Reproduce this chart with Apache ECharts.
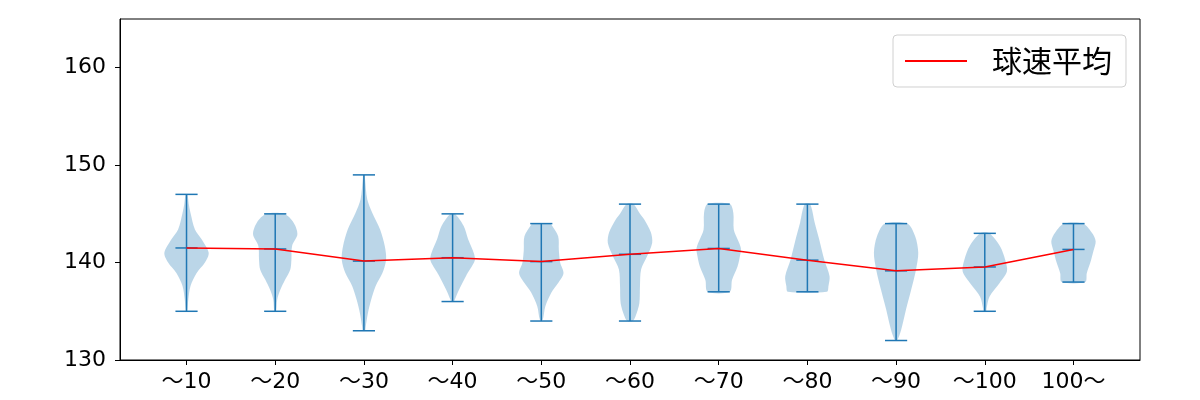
<!DOCTYPE html>
<html>
<head>
<meta charset="utf-8">
<script src="https://cdn.jsdelivr.net/npm/echarts@6/dist/echarts.min.js"></script>
<style>
  html, body { margin: 0; padding: 0; background: #fff; }
  #chart { width: 1200px; height: 400px; }
</style>
</head>
<body>
<div id="chart"></div>
<script>
// ---- data ----
const categories = ['～10', '～20', '～30', '～40', '～50', '～60', '～70', '～80', '～90', '～100', '100～'];
const seriesName = '球速平均';
const means = [141.5, 141.4, 140.15, 140.5, 140.1, 140.85, 141.45, 140.25, 139.15, 139.55, 141.35];
const mins  = [135, 135, 133, 136, 134, 134, 137, 137, 132, 135, 138];
const maxs  = [147, 145, 149, 145, 144, 146, 146, 146, 144, 143, 144];
// violin outlines: [speed, relative half-width (1 = widest)] from top to bottom
const profile1  = [[147,0.04],[146,0.1],[145.1,0.18],[143.4,0.38],[142.4,0.68],[141,1.0],[140,0.83],[138.9,0.45],[137.6,0.18],[136.2,0.08],[135,0.03]];
const profile2  = [[145,0.4],[144.1,0.83],[142.9,1.0],[141.7,0.76],[140.3,0.73],[139.3,0.68],[138.25,0.45],[137.2,0.23],[136.2,0.09],[135,0.04]];
const profile3  = [[149,0.03],[148.6,0.05],[146.5,0.15],[145.1,0.38],[143.4,0.73],[141.7,0.94],[140.3,1.0],[138.9,0.83],[137.6,0.53],[136.2,0.33],[134.8,0.18],[133.4,0.08],[133,0.05]];
const profile4  = [[145,0.1],[143.75,0.5],[142.4,0.7],[141,0.95],[140.2,1.0],[138.6,0.6],[137.2,0.29],[136.2,0.1],[136,0.06]];
const profile5  = [[144,0.4],[143.9,0.45],[142.7,0.76],[141.3,0.79],[140,0.85],[138.9,1.0],[137.9,0.76],[136.9,0.45],[135.5,0.18],[134.1,0.06]];
const profile6  = [[146,0.15],[145,0.45],[144.4,0.65],[143.1,0.94],[142,1.0],[140.6,0.76],[139.3,0.5],[137.6,0.45],[135.8,0.42],[134.5,0.25],[134,0.12]];
const profile7  = [[146,0.5],[145.1,0.66],[143.4,0.68],[142.4,0.85],[141.5,1.0],[140.8,0.97],[139.6,0.85],[138.2,0.6],[137,0.5]];
const profile8  = [[146,0.12],[144.1,0.33],[142.4,0.53],[140.3,0.76],[138.6,1.0],[137.6,0.95],[137,0.88]];
const profile9  = [[144,0.5],[142.7,0.86],[141,1.0],[139.3,0.9],[137.2,0.68],[135.2,0.45],[133.1,0.23],[132,0.05]];
const profile10 = [[143,0.2],[141.7,0.68],[140.3,0.92],[139.1,1.0],[137.9,0.67],[136.5,0.21],[135.3,0.08],[135,0.06]];
const profile11 = [[144,0.42],[143.06,0.83],[142.2,1.0],[141.2,0.9],[140,0.76],[138.9,0.6],[138,0.53]];
const profiles = [profile1, profile2, profile3, profile4, profile5, profile6, profile7, profile8, profile9, profile10, profile11];
const yTicks = [130, 140, 150, 160];

// ---- chart ----
const positions = categories.map((_, i) => i + 1);
const VIOLIN_HALF = 0.25;  // half of violin width in x units
const CAP_HALF = 0.125;
const blue = '#1f77b4';
const tickFont = '"DejaVu Sans", "Noto Sans CJK JP", sans-serif';
const cjkFont = '"Noto Sans CJK JP", sans-serif';

const violinData = positions.map((p, i) => [p, mins[i], maxs[i], means[i], i]);

function renderViolin(params, api) {
  const pos = api.value(0);
  const idx = api.value(4);
  const prof = profiles[idx];
  const right = prof.map(([v, w]) => api.coord([pos + w * VIOLIN_HALF, v]));
  const left = prof.slice().reverse().map(([v, w]) => api.coord([pos - w * VIOLIN_HALF, v]));
  const pts = right.concat(left);
  const lo = api.value(1), hi = api.value(2), mu = api.value(3);
  const top = api.coord([pos, hi]), bot = api.coord([pos, lo]);
  const capL = api.coord([pos - CAP_HALF, hi])[0], capR = api.coord([pos + CAP_HALF, hi])[0];
  const meanY = api.coord([pos, mu])[1];
  const lineStyle = { stroke: blue, lineWidth: 1.5, fill: null };
  return {
    type: 'group',
    children: [
      { type: 'polygon', shape: { points: pts, smooth: 0.3 }, style: { fill: 'rgba(31,119,180,0.3)', stroke: null } },
      { type: 'line', shape: { x1: top[0], y1: top[1], x2: bot[0], y2: bot[1] }, style: lineStyle },
      { type: 'line', shape: { x1: capL, y1: top[1], x2: capR, y2: top[1] }, style: lineStyle },
      { type: 'line', shape: { x1: capL, y1: bot[1], x2: capR, y2: bot[1] }, style: lineStyle },
      { type: 'line', shape: { x1: capL, y1: meanY, x2: capR, y2: meanY }, style: lineStyle }
    ]
  };
}

const chart = echarts.init(document.getElementById('chart'), null, { renderer: 'canvas' });
chart.setOption({
  animation: false,
  backgroundColor: '#ffffff',
  grid: { left: 120, right: 60, top: 19, bottom: 40, show: true, borderColor: '#000', borderWidth: 1, backgroundColor: 'transparent' },
  legend: {
    left: 893, top: 35,
    padding: [11, 14, 11, 12],
    backgroundColor: '#fff',
    borderColor: '#d0d0d0', borderWidth: 1, borderRadius: 4,
    itemWidth: 62, itemHeight: 2,
    icon: 'rect',
    data: [{ name: seriesName, itemStyle: { color: '#ff0000' } }],
    textStyle: { fontFamily: cjkFont, fontSize: 30, color: '#000', padding: [0, 0, 0, 20] }
  },
  xAxis: {
    type: 'value', min: 0.25, max: 11.75,
    splitLine: { show: false },
    axisLine: { show: true, lineStyle: { color: '#000', width: 1 } },
    axisTick: { show: true, length: 5, lineStyle: { color: '#000' }, customValues: positions },
    axisLabel: {
      customValues: positions, margin: 11,
      formatter: v => categories[Math.round(v) - 1] || '',
      fontFamily: tickFont, fontSize: 22, color: '#000'
    }
  },
  yAxis: {
    type: 'value', min: 130, max: 165, interval: 10,
    splitLine: { show: false },
    axisLine: { show: true, lineStyle: { color: '#000', width: 1 } },
    axisTick: { show: true, length: 5, lineStyle: { color: '#000' }, customValues: yTicks },
    axisLabel: { customValues: yTicks, margin: 14, fontFamily: tickFont, fontSize: 22, color: '#000' }
  },
  series: [
    {
      type: 'custom', name: 'violin',
      renderItem: renderViolin,
      data: violinData,
      encode: { x: 0, y: [1, 2] },
      z: 2
    },
    {
      type: 'line', name: seriesName,
      data: positions.map((p, i) => [p, means[i]]),
      showSymbol: false, symbol: 'none',
      lineStyle: { color: '#ff0000', width: 1.5 },
      itemStyle: { color: '#ff0000' },
      z: 3
    }
  ]
});
</script>
</body>
</html>
